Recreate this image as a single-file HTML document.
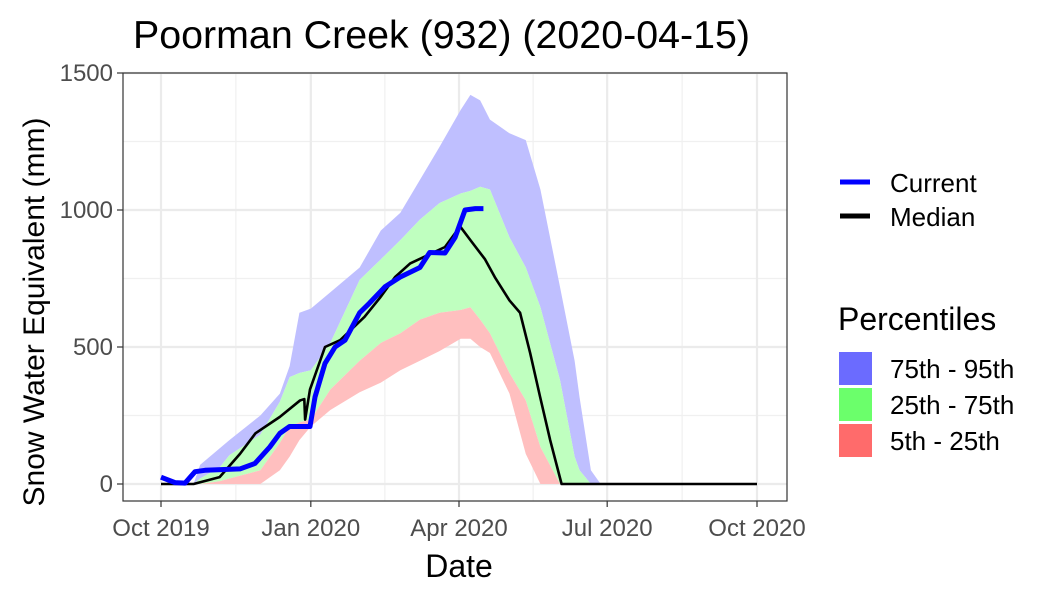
<!DOCTYPE html>
<html><head><meta charset="utf-8"><style>
html,body{margin:0;padding:0;background:#fff;}
svg{display:block;font-family:"Liberation Sans",sans-serif;}
</style></head><body>
<svg id="chart" width="1050" height="600" viewBox="0 0 1050 600">
<rect width="1050" height="600" fill="#fff"/>
<text x="133" y="48" font-size="39" textLength="617" lengthAdjust="spacingAndGlyphs">Poorman Creek (932) (2020-04-15)</text>
<g id="grid"></g>
<g id="bands"></g>
<g id="lines"></g>
<rect x="123" y="73" width="664" height="428" fill="none" stroke="#333" stroke-width="1.2"/>
<g id="axes"></g>
<text x="459" y="577" font-size="32" text-anchor="middle">Date</text>
<text transform="translate(44,312) rotate(-90)" font-size="30" text-anchor="middle">Snow Water Equivalent (mm)</text>
<g>
<line x1="840" y1="182" x2="870" y2="182" stroke="#0000ff" stroke-width="5"/>
<text x="890" y="192" font-size="26">Current</text>
<line x1="840" y1="216" x2="870" y2="216" stroke="#000" stroke-width="5"/>
<text x="890" y="226" font-size="26">Median</text>
</g>
<g>
<text x="838" y="330" font-size="32">Percentiles</text>
<rect x="839" y="352" width="33" height="33" fill="#6b6bff"/>
<text x="890" y="378" font-size="26">75th - 95th</text>
<rect x="839" y="388" width="33" height="33" fill="#6bff6b"/>
<text x="890" y="414" font-size="26">25th - 75th</text>
<rect x="839" y="424" width="33" height="33" fill="#ff6b6b"/>
<text x="890" y="450" font-size="26">5th - 25th</text>
</g>
</svg>
<script>
// days since 2019-10-01
const bandDays = [0,20,24,36,42,61,73,79,85,92,104,122,135,147,159,171,184,190,196,202,214,224,233,245,254,257,264,270,366];
const p95 = [0,0,70,130,160,250,330,430,625,640,700,790,925,990,1110,1230,1365,1420,1400,1330,1280,1255,1075,720,450,318,50,0,0];
const p75 = [0,0,20,60,105,180,300,390,405,415,515,745,820,890,965,1025,1060,1070,1085,1075,900,790,645,380,100,50,0,0,0];
const p25 = [0,0,0,10,20,50,150,210,225,235,345,450,515,550,600,625,635,645,600,550,405,305,135,0,0,0,0,0,0];
const p5  = [0,0,0,0,0,0,50,100,160,210,270,335,370,415,450,485,530,530,500,478,330,110,0,0,0,0,0,0,0];
const medianDays = [0,20,36,48.5,58,73,85.4,88,88.5,91.5,100.7,110,125,134.5,143.7,153,162,174.4,183.7,190,199,205,214,220.5,226.7,232.8,239,246,366];
const medianVals = [0,0,25,110,185,245,305,310,235,345,500,525,610,680,755,805,830,865,940,890,820,755,670,625,478,318,160,0,0];
const currentDays = [0,8.6,14.7,20.9,27,48.5,57.7,66.8,73,79,91.5,94.6,100.7,106.9,113,122,128,137.6,146.8,159,165,174.4,180.6,186.7,193,198];
const currentVals = [25,5,3,45,50,55,75,135,185,210,210,318,440,500,525,625,660,720,755,790,845,843,900,1000,1005,1005];
const xTickDays = [0,92,183,274,366];
const xTickLabels = ["Oct 2019","Jan 2020","Apr 2020","Jul 2020","Oct 2020"];
const yTicks = [0,500,1000,1500];

const NS="http://www.w3.org/2000/svg";
const X0=161, X1=757, Y0=484, Y1=73;
const xs=d=>X0+d*(X1-X0)/366;
const ys=v=>Y0-v*(Y0-Y1)/1500;
function mk(tag,attrs,parent){const e=document.createElementNS(NS,tag);for(const k in attrs)e.setAttribute(k,attrs[k]);parent.appendChild(e);return e;}
const grid=document.getElementById('grid'),bands=document.getElementById('bands'),lines=document.getElementById('lines'),axes=document.getElementById('axes');
for(let i=0;i<yTicks.length-1;i++){const v=(yTicks[i]+yTicks[i+1])/2;
 const l=mk('line',{x1:123,x2:787,y1:ys(v),y2:ys(v),stroke:'#f0f0f0','stroke-width':1.2},grid);
 
 }
for(let i=0;i<xTickDays.length-1;i++){const d=(xTickDays[i]+xTickDays[i+1])/2;
 const l=mk('line',{y1:73,y2:501,x1:xs(d),x2:xs(d),stroke:'#f0f0f0','stroke-width':1.2},grid);
 
 }
yTicks.forEach(v=>{
 const l=mk('line',{x1:123,x2:787,y1:ys(v),y2:ys(v),stroke:'#ebebeb','stroke-width':2.2},grid);
 
 
 const t=mk('line',{x1:117,x2:123,y1:ys(v),y2:ys(v),stroke:'#333','stroke-width':1.2},axes);
 
 
 const tx=mk('text',{x:113,y:ys(v)+8,'font-size':24,'text-anchor':'end',fill:'#4d4d4d'},axes);
 tx.textContent=v;
 
 
});
xTickDays.forEach((d,i)=>{
 const l=mk('line',{y1:73,y2:501,x1:xs(d),x2:xs(d),stroke:'#ebebeb','stroke-width':2.2},grid);
 
 
 const t=mk('line',{y1:501,y2:507,x1:xs(d),x2:xs(d),stroke:'#333','stroke-width':1.2},axes);
 
 
 const tx=mk('text',{x:xs(d),y:536,'font-size':24,'text-anchor':'middle',fill:'#4d4d4d'},axes);
 tx.textContent=xTickLabels[i];
 
 
});
function band(lo,hi,fill,name){
 let pts=bandDays.map((d,i)=>xs(d)+','+ys(hi[i]));
 for(let i=bandDays.length-1;i>=0;i--)pts.push(xs(bandDays[i])+','+ys(lo[i]));
 const p=mk('polygon',{points:pts.join(' '),fill:fill},bands);
 
 
}
band(p75,p95,'#bfbfff','band-75-95');
band(p25,p75,'#bfffbf','band-25-75');
band(p5,p25,'#ffbfbf','band-5-25');
const med=mk('polyline',{points:medianDays.map((d,i)=>xs(d)+','+ys(medianVals[i])).join(' '),fill:'none',stroke:'#000','stroke-width':2.6,'stroke-linejoin':'round'},lines);


const cur=mk('polyline',{points:currentDays.map((d,i)=>xs(d)+','+ys(currentVals[i])).join(' '),fill:'none',stroke:'#0000ff','stroke-width':5,'stroke-linejoin':'round'},lines);


</script>
</body></html>
